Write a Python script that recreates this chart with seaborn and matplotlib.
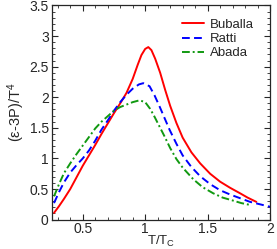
import matplotlib
matplotlib.use("Agg")
import matplotlib.pyplot as plt
import seaborn as sns
import pandas as pd
from matplotlib.ticker import MultipleLocator

t_buballa = [0.27, 0.31, 0.35, 0.40, 0.45, 0.50, 0.55, 0.60, 0.65, 0.70, 0.75, 0.80, 0.85, 0.90, 0.94, 0.97, 1.00, 1.025, 1.05, 1.08, 1.12, 1.16, 1.20, 1.25, 1.30, 1.37, 1.44, 1.52, 1.60, 1.68, 1.76, 1.82, 1.89]
v_buballa = [0.11, 0.22, 0.34, 0.50, 0.69, 0.88, 1.05, 1.22, 1.40, 1.57, 1.74, 1.90, 2.07, 2.30, 2.53, 2.69, 2.79, 2.82, 2.77, 2.63, 2.40, 2.12, 1.86, 1.58, 1.34, 1.10, 0.92, 0.75, 0.62, 0.52, 0.43, 0.36, 0.29]

t_ratti = [0.27, 0.31, 0.35, 0.40, 0.45, 0.50, 0.55, 0.60, 0.65, 0.70, 0.75, 0.80, 0.85, 0.90, 0.95, 0.985, 1.035, 1.075, 1.115, 1.155, 1.195, 1.25, 1.30, 1.37, 1.44, 1.52, 1.60, 1.68, 1.76, 1.84, 1.92, 2.00]
v_ratti = [0.27, 0.45, 0.61, 0.77, 0.89, 1.00, 1.13, 1.29, 1.47, 1.62, 1.78, 1.92, 2.04, 2.14, 2.21, 2.23, 2.18, 2.03, 1.85, 1.66, 1.47, 1.24, 1.05, 0.86, 0.71, 0.58, 0.48, 0.41, 0.35, 0.29, 0.25, 0.21]

t_abada = [0.27, 0.31, 0.35, 0.40, 0.45, 0.50, 0.55, 0.60, 0.65, 0.70, 0.75, 0.80, 0.85, 0.90, 0.955, 1.00, 1.04, 1.075, 1.12, 1.155, 1.20, 1.25, 1.30, 1.385, 1.46, 1.545, 1.62, 1.705, 1.77, 1.84]
v_abada = [0.38, 0.58, 0.76, 0.92, 1.07, 1.21, 1.35, 1.49, 1.60, 1.69, 1.78, 1.84, 1.88, 1.92, 1.95, 1.92, 1.81, 1.68, 1.50, 1.36, 1.17, 0.99, 0.85, 0.66, 0.53, 0.43, 0.36, 0.31, 0.27, 0.24]

names = ["Buballa", "Ratti", "Abada"]
colors = ["#ff0000", "#0000ff", "#119911"]

df = pd.concat([
    pd.DataFrame({"T": t_buballa, "v": v_buballa, "model": "Buballa"}),
    pd.DataFrame({"T": t_ratti, "v": v_ratti, "model": "Ratti"}),
    pd.DataFrame({"T": t_abada, "v": v_abada, "model": "Abada"}),
])

sns.set_style("ticks")
plt.rcParams["font.family"] = ["Liberation Sans", "DejaVu Sans"]
plt.rcParams["mathtext.fontset"] = "custom"
plt.rcParams["mathtext.rm"] = "Liberation Sans"
plt.rcParams["mathtext.it"] = "Liberation Sans"

fig = plt.figure(figsize=(2.77, 2.49), dpi=100)
ax = fig.add_axes([0.186, 0.118, 0.789, 0.860])

sns.lineplot(data=df, x="T", y="v", hue="model", style="model",
             hue_order=names, style_order=names,
             palette=dict(zip(names, colors)),
             dashes={"Buballa": "", "Ratti": (4, 2.2), "Abada": (4, 1.5, 1, 1.5)},
             linewidth=1.4, ax=ax, sort=False)

ax.set_xlim(0.25, 2.0)
ax.set_ylim(0, 3.5)
ax.xaxis.set_major_locator(MultipleLocator(0.5))
ax.xaxis.set_minor_locator(MultipleLocator(0.1))
ax.yaxis.set_major_locator(MultipleLocator(0.5))
ax.yaxis.set_minor_locator(MultipleLocator(0.1))
ax.set_xticks([0.5, 1, 1.5, 2])
ax.set_xticklabels(["0.5", "1", "1.5", "2"])
ax.set_yticks([0, 0.5, 1, 1.5, 2, 2.5, 3, 3.5])
ax.set_yticklabels(["0", "0.5", "1", "1.5", "2", "2.5", "3", "3.5"])
ax.tick_params(which="both", direction="in", top=True, right=True, labelsize=10, pad=2)
ax.tick_params(which="major", length=4, width=0.8)
ax.tick_params(which="minor", length=2, width=0.6)
for s in ax.spines.values():
    s.set_linewidth(0.9)

ax.set_xlabel("T/T$_\\mathrm{C}$", fontsize=9.5, labelpad=-1.5)
ax.set_ylabel("(ε-3P)/T$^4$", fontsize=10.5, labelpad=2)

leg = ax.legend(frameon=False, loc="upper right", fontsize=9.5, handlelength=1.7,
                handletextpad=0.45, borderaxespad=0, labelspacing=0.15,
                bbox_to_anchor=(0.95, 0.963))

fig.savefig("out.png", dpi=100)
